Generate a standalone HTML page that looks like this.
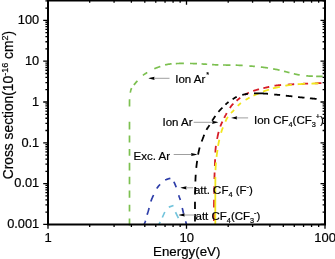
<!DOCTYPE html>
<html><head><meta charset="utf-8"><style>
html,body{margin:0;padding:0;background:#fff;}
body{width:335px;height:259px;overflow:hidden;position:relative;}
svg{position:absolute;left:0;top:0;will-change:transform;}
.t{font-family:"Liberation Sans",sans-serif;fill:#000;stroke:#000;stroke-width:0.2px;}
</style></head><body>
<svg width="335" height="259" viewBox="0 0 335 259">
<rect width="335" height="259" fill="#fff"/>
<path d="M129.50,225.50 L129.50,223.18 L129.50,220.34 L129.50,217.05 L129.50,213.37 L129.50,209.35 L129.50,205.05 L129.50,200.54 L129.50,195.88 L129.50,191.11 L129.50,186.31 L129.50,181.52 L129.50,176.82 L129.50,172.26 L129.50,167.89 L129.50,163.79 L129.50,160.00 L129.50,156.38 L129.50,152.74 L129.50,149.11 L129.50,145.50 L129.50,141.92 L129.50,138.40 L129.49,134.95 L129.49,131.59 L129.49,128.34 L129.49,125.21 L129.49,122.22 L129.49,119.39 L129.49,116.74 L129.50,114.28 L129.50,112.03 L129.50,110.00 L129.50,108.23 L129.50,106.72 L129.51,105.45 L129.51,104.38 L129.51,103.50 L129.51,102.78 L129.52,102.19 L129.52,101.72 L129.52,101.33 L129.53,101.01 L129.54,100.72 L129.54,100.45 L129.56,100.17 L129.57,99.85 L129.58,99.47 L129.60,99.00 L129.62,98.50 L129.64,98.05 L129.66,97.62 L129.68,97.22 L129.70,96.85 L129.72,96.51 L129.75,96.18 L129.78,95.87 L129.80,95.57 L129.84,95.28 L129.87,94.99 L129.91,94.70 L129.95,94.42 L130.00,94.12 L130.05,93.82 L130.10,93.50 L130.16,93.18 L130.21,92.85 L130.27,92.53 L130.33,92.21 L130.40,91.89 L130.46,91.58 L130.53,91.27 L130.61,90.96 L130.68,90.65 L130.77,90.35 L130.86,90.04 L130.95,89.75 L131.05,89.45 L131.16,89.17 L131.28,88.88 L131.40,88.60 L131.53,88.33 L131.67,88.06 L131.82,87.79 L131.98,87.54 L132.14,87.28 L132.31,87.03 L132.48,86.79 L132.66,86.54 L132.85,86.30 L133.03,86.06 L133.22,85.82 L133.42,85.58 L133.61,85.34 L133.81,85.09 L134.00,84.85 L134.20,84.60 L134.40,84.35 L134.59,84.11 L134.79,83.86 L134.99,83.62 L135.20,83.38 L135.40,83.14 L135.61,82.90 L135.82,82.66 L136.03,82.42 L136.25,82.17 L136.48,81.92 L136.71,81.67 L136.95,81.41 L137.19,81.15 L137.44,80.88 L137.70,80.60 L137.97,80.31 L138.24,80.01 L138.53,79.70 L138.82,79.38 L139.12,79.06 L139.42,78.73 L139.73,78.40 L140.04,78.06 L140.36,77.73 L140.68,77.40 L141.00,77.08 L141.32,76.76 L141.64,76.45 L141.96,76.16 L142.28,75.87 L142.60,75.60 L142.91,75.34 L143.23,75.10 L143.54,74.86 L143.86,74.64 L144.17,74.42 L144.48,74.20 L144.80,74.00 L145.12,73.79 L145.44,73.59 L145.76,73.40 L146.09,73.20 L146.42,73.01 L146.76,72.81 L147.10,72.61 L147.45,72.41 L147.80,72.20 L148.16,71.99 L148.53,71.78 L148.90,71.56 L149.28,71.35 L149.66,71.13 L150.05,70.92 L150.44,70.70 L150.83,70.49 L151.23,70.28 L151.62,70.07 L152.02,69.86 L152.42,69.66 L152.82,69.46 L153.21,69.27 L153.61,69.08 L154.00,68.90 L154.39,68.72 L154.79,68.55 L155.18,68.39 L155.58,68.22 L155.98,68.06 L156.38,67.91 L156.78,67.76 L157.18,67.61 L157.58,67.46 L157.98,67.32 L158.37,67.18 L158.76,67.04 L159.15,66.90 L159.54,66.77 L159.92,66.63 L160.30,66.50 L160.67,66.37 L161.04,66.24 L161.40,66.11 L161.76,65.99 L162.12,65.86 L162.47,65.74 L162.82,65.62 L163.17,65.51 L163.52,65.39 L163.87,65.28 L164.22,65.18 L164.57,65.07 L164.92,64.97 L165.28,64.88 L165.64,64.79 L166.00,64.70 L166.37,64.62 L166.74,64.54 L167.11,64.47 L167.48,64.40 L167.85,64.33 L168.23,64.27 L168.60,64.21 L168.98,64.16 L169.36,64.10 L169.74,64.05 L170.11,64.01 L170.49,63.96 L170.87,63.92 L171.25,63.88 L171.62,63.84 L172.00,63.80 L172.37,63.76 L172.74,63.73 L173.11,63.70 L173.48,63.68 L173.84,63.66 L174.21,63.63 L174.57,63.62 L174.94,63.60 L175.31,63.59 L175.68,63.57 L176.05,63.56 L176.43,63.55 L176.81,63.54 L177.20,63.52 L177.60,63.51 L178.00,63.50 L178.40,63.49 L178.81,63.48 L179.21,63.46 L179.61,63.45 L180.01,63.44 L180.42,63.43 L180.83,63.43 L181.25,63.42 L181.68,63.41 L182.11,63.41 L182.56,63.40 L183.02,63.40 L183.49,63.40 L183.97,63.40 L184.48,63.40 L185.00,63.40 L185.54,63.40 L186.11,63.41 L186.70,63.41 L187.30,63.42 L187.92,63.43 L188.55,63.44 L189.19,63.45 L189.84,63.46 L190.50,63.48 L191.15,63.49 L191.81,63.51 L192.46,63.52 L193.11,63.54 L193.75,63.56 L194.38,63.58 L195.00,63.60 L195.60,63.62 L196.20,63.65 L196.79,63.67 L197.38,63.70 L197.96,63.73 L198.53,63.76 L199.11,63.79 L199.69,63.82 L200.27,63.85 L200.85,63.88 L201.44,63.92 L202.03,63.95 L202.63,63.99 L203.24,64.03 L203.87,64.06 L204.50,64.10 L205.15,64.14 L205.80,64.18 L206.46,64.23 L207.13,64.27 L207.81,64.32 L208.49,64.37 L209.18,64.42 L209.88,64.47 L210.57,64.51 L211.27,64.56 L211.98,64.61 L212.68,64.65 L213.39,64.69 L214.09,64.73 L214.80,64.77 L215.50,64.80 L216.20,64.83 L216.91,64.85 L217.62,64.87 L218.33,64.89 L219.04,64.91 L219.75,64.93 L220.47,64.94 L221.19,64.95 L221.91,64.96 L222.63,64.98 L223.35,64.99 L224.08,65.00 L224.81,65.01 L225.54,65.02 L226.27,65.04 L227.00,65.05 L227.73,65.06 L228.47,65.08 L229.20,65.09 L229.94,65.10 L230.68,65.11 L231.42,65.12 L232.16,65.12 L232.91,65.13 L233.65,65.15 L234.40,65.16 L235.16,65.17 L235.92,65.19 L236.68,65.21 L237.45,65.24 L238.22,65.27 L239.00,65.30 L239.79,65.34 L240.58,65.38 L241.39,65.42 L242.20,65.47 L243.02,65.52 L243.85,65.58 L244.67,65.63 L245.50,65.69 L246.33,65.75 L247.15,65.81 L247.98,65.87 L248.80,65.94 L249.61,66.00 L250.42,66.07 L251.21,66.13 L252.00,66.20 L252.79,66.27 L253.58,66.34 L254.38,66.41 L255.19,66.48 L255.99,66.55 L256.79,66.63 L257.59,66.70 L258.38,66.78 L259.15,66.86 L259.91,66.94 L260.65,67.01 L261.38,67.09 L262.07,67.17 L262.75,67.25 L263.39,67.32 L264.00,67.40 L264.58,67.48 L265.12,67.55 L265.64,67.63 L266.12,67.70 L266.59,67.78 L267.04,67.86 L267.46,67.94 L267.88,68.01 L268.28,68.09 L268.67,68.16 L269.05,68.24 L269.44,68.31 L269.82,68.39 L270.21,68.46 L270.60,68.53 L271.00,68.60 L271.40,68.67 L271.79,68.73 L272.17,68.79 L272.55,68.85 L272.92,68.90 L273.28,68.96 L273.64,69.01 L274.00,69.07 L274.36,69.12 L274.72,69.18 L275.08,69.24 L275.45,69.31 L275.83,69.37 L276.21,69.44 L276.60,69.52 L277.00,69.60 L277.41,69.69 L277.83,69.78 L278.26,69.88 L278.70,69.98 L279.15,70.09 L279.60,70.20 L280.05,70.31 L280.50,70.42 L280.95,70.53 L281.40,70.65 L281.85,70.76 L282.30,70.87 L282.74,70.98 L283.17,71.09 L283.59,71.20 L284.00,71.30 L284.40,71.40 L284.79,71.50 L285.17,71.59 L285.55,71.68 L285.92,71.78 L286.28,71.87 L286.64,71.96 L287.00,72.05 L287.36,72.14 L287.72,72.23 L288.08,72.32 L288.45,72.42 L288.83,72.51 L289.21,72.60 L289.60,72.70 L290.00,72.80 L290.41,72.90 L290.83,73.01 L291.25,73.11 L291.68,73.23 L292.11,73.34 L292.55,73.45 L292.99,73.56 L293.44,73.67 L293.88,73.79 L294.33,73.90 L294.78,74.01 L295.23,74.11 L295.67,74.22 L296.12,74.31 L296.56,74.41 L297.00,74.50 L297.44,74.59 L297.88,74.67 L298.33,74.75 L298.77,74.83 L299.22,74.91 L299.67,74.98 L300.12,75.06 L300.56,75.12 L301.01,75.19 L301.45,75.26 L301.89,75.32 L302.32,75.38 L302.75,75.44 L303.17,75.50 L303.59,75.55 L304.00,75.60 L304.40,75.65 L304.78,75.69 L305.16,75.73 L305.52,75.77 L305.88,75.81 L306.24,75.84 L306.59,75.87 L306.94,75.90 L307.29,75.93 L307.65,75.95 L308.01,75.98 L308.38,76.00 L308.77,76.03 L309.16,76.05 L309.57,76.08 L310.00,76.10 L310.45,76.12 L310.91,76.15 L311.39,76.17 L311.88,76.19 L312.39,76.22 L312.90,76.24 L313.42,76.26 L313.94,76.28 L314.46,76.29 L314.99,76.31 L315.51,76.33 L316.02,76.34 L316.53,76.36 L317.03,76.37 L317.52,76.39 L318.00,76.40 L318.48,76.41 L318.97,76.42 L319.47,76.43 L319.98,76.44 L320.50,76.45 L321.01,76.46 L321.51,76.46 L322.00,76.47 L322.48,76.47 L322.93,76.48 L323.36,76.48 L323.77,76.49 L324.14,76.49 L324.47,76.49 L324.76,76.50 L325.00,76.50" fill="none" stroke="#7cc050" stroke-width="1.7" stroke-dasharray="0.00 0.00 6.90 7.00 6.90 6.90 7.20 6.30 7.60 6.30 7.60 7.00 6.90 6.30 7.00 6.20 7.70 15.10 7.40 6.66 4.73 3.91 5.30 7.85 5.18 8.00 6.42 4.99 6.64 4.20 8.10 6.10 7.00 4.61 5.59 4.92 6.31 4.60 7.50 5.20 7.00 6.63 5.62 6.02 7.23 5.10 6.65 4.56 5.63 4.51 5.97 6.65 6.61 3.30 6.50 390.42"/>
<path d="M144.10,224.60 L144.15,224.46 L144.21,224.30 L144.29,224.12 L144.36,223.91 L144.45,223.70 L144.54,223.46 L144.64,223.21 L144.74,222.94 L144.85,222.67 L144.96,222.38 L145.07,222.08 L145.18,221.78 L145.28,221.46 L145.39,221.15 L145.50,220.82 L145.60,220.50 L145.70,220.17 L145.80,219.82 L145.90,219.45 L146.01,219.07 L146.11,218.69 L146.22,218.29 L146.32,217.89 L146.43,217.48 L146.54,217.06 L146.65,216.64 L146.75,216.23 L146.86,215.81 L146.97,215.40 L147.08,214.99 L147.19,214.59 L147.30,214.20 L147.41,213.81 L147.52,213.43 L147.63,213.05 L147.75,212.67 L147.86,212.29 L147.97,211.92 L148.09,211.54 L148.20,211.16 L148.31,210.79 L148.43,210.41 L148.54,210.03 L148.65,209.65 L148.77,209.27 L148.88,208.88 L148.99,208.49 L149.10,208.10 L149.21,207.70 L149.31,207.31 L149.41,206.91 L149.51,206.51 L149.61,206.10 L149.70,205.70 L149.80,205.29 L149.89,204.88 L149.99,204.47 L150.09,204.06 L150.20,203.65 L150.31,203.24 L150.42,202.83 L150.54,202.42 L150.67,202.01 L150.80,201.60 L150.94,201.19 L151.09,200.78 L151.24,200.36 L151.40,199.95 L151.56,199.53 L151.72,199.11 L151.89,198.70 L152.06,198.28 L152.24,197.87 L152.41,197.45 L152.59,197.04 L152.77,196.62 L152.95,196.21 L153.14,195.81 L153.32,195.40 L153.50,195.00 L153.68,194.60 L153.86,194.19 L154.05,193.79 L154.23,193.38 L154.42,192.98 L154.61,192.58 L154.80,192.17 L154.99,191.78 L155.18,191.38 L155.38,190.99 L155.57,190.61 L155.77,190.23 L155.98,189.86 L156.18,189.50 L156.39,189.14 L156.60,188.80 L156.81,188.47 L157.03,188.14 L157.24,187.83 L157.46,187.52 L157.68,187.22 L157.90,186.93 L158.12,186.64 L158.35,186.36 L158.58,186.08 L158.81,185.81 L159.05,185.54 L159.29,185.27 L159.54,185.00 L159.79,184.74 L160.04,184.47 L160.30,184.20 L160.57,183.93 L160.83,183.66 L161.11,183.38 L161.39,183.11 L161.67,182.84 L161.96,182.56 L162.25,182.30 L162.54,182.03 L162.84,181.77 L163.14,181.52 L163.45,181.27 L163.75,181.04 L164.06,180.81 L164.37,180.60 L164.69,180.39 L165.00,180.20 L165.33,180.02 L165.67,179.85 L166.02,179.68 L166.39,179.53 L166.76,179.38 L167.14,179.24 L167.52,179.11 L167.89,178.99 L168.26,178.87 L168.62,178.77 L168.97,178.67 L169.30,178.58 L169.61,178.50 L169.90,178.42 L170.17,178.36 L170.40,178.30 L170.60,178.25 L170.78,178.20 L170.93,178.17 L171.06,178.13 L171.17,178.11 L171.27,178.09 L171.35,178.09 L171.43,178.09 L171.49,178.10 L171.55,178.12 L171.61,178.15 L171.68,178.20 L171.74,178.25 L171.82,178.32 L171.90,178.40 L172.00,178.50 L172.11,178.61 L172.21,178.73 L172.32,178.86 L172.42,179.01 L172.53,179.17 L172.63,179.34 L172.74,179.52 L172.85,179.71 L172.96,179.91 L173.07,180.12 L173.19,180.34 L173.30,180.57 L173.42,180.82 L173.54,181.07 L173.67,181.33 L173.80,181.60 L173.93,181.88 L174.07,182.17 L174.21,182.48 L174.36,182.80 L174.51,183.12 L174.66,183.46 L174.81,183.81 L174.96,184.16 L175.12,184.53 L175.27,184.90 L175.43,185.28 L175.59,185.67 L175.74,186.07 L175.90,186.47 L176.05,186.88 L176.20,187.30 L176.35,187.73 L176.50,188.18 L176.66,188.65 L176.81,189.14 L176.97,189.63 L177.12,190.14 L177.28,190.65 L177.43,191.16 L177.58,191.68 L177.74,192.19 L177.89,192.69 L178.04,193.18 L178.18,193.66 L178.32,194.13 L178.46,194.58 L178.60,195.00 L178.73,195.40 L178.86,195.78 L178.99,196.14 L179.11,196.49 L179.24,196.82 L179.36,197.14 L179.48,197.46 L179.59,197.78 L179.71,198.09 L179.82,198.40 L179.94,198.72 L180.05,199.05 L180.16,199.39 L180.28,199.74 L180.39,200.11 L180.50,200.50 L180.61,200.91 L180.72,201.33 L180.83,201.77 L180.94,202.22 L181.05,202.69 L181.16,203.15 L181.27,203.63 L181.38,204.11 L181.48,204.59 L181.59,205.06 L181.69,205.54 L181.79,206.01 L181.90,206.47 L182.00,206.93 L182.10,207.37 L182.20,207.80 L182.30,208.22 L182.39,208.62 L182.49,209.02 L182.58,209.41 L182.67,209.79 L182.76,210.17 L182.85,210.55 L182.94,210.92 L183.03,211.29 L183.12,211.66 L183.21,212.04 L183.30,212.42 L183.40,212.80 L183.49,213.19 L183.60,213.59 L183.70,214.00 L183.81,214.42 L183.93,214.86 L184.05,215.31 L184.17,215.77 L184.30,216.24 L184.43,216.72 L184.56,217.19 L184.69,217.66 L184.82,218.13 L184.94,218.59 L185.07,219.04 L185.19,219.47 L185.30,219.89 L185.41,220.28 L185.51,220.65 L185.60,221.00 L185.69,221.32 L185.77,221.64 L185.84,221.94 L185.92,222.22 L185.99,222.50 L186.05,222.76 L186.11,223.00 L186.17,223.24 L186.22,223.46 L186.27,223.66 L186.32,223.86 L186.36,224.03 L186.40,224.20 L186.44,224.35 L186.47,224.48 L186.50,224.60" fill="none" stroke="#2c3ca8" stroke-width="1.7" stroke-dasharray="0.00 0.00 4.08 6.32 6.85 6.91 6.94 7.21 5.36 6.70 5.50 5.58 6.01 8.35 5.06 8.17 5.97 7.69 3.49 156.18"/>
<path d="M158.80,224.60 L160.30,221.80 L162.30,217.50 L164.80,212.00 L167.60,207.60 L168.80,207.10 L173.50,205.50 L175.50,212.20 L178.40,218.20 L181.10,224.60" fill="none" stroke="#72c4dc" stroke-width="1.65" stroke-dasharray="0.00 0.00 3.00 4.92 6.04 6.52 4.96 6.99 6.66 96.04"/>
<path d="M214.00,224.40 L214.00,223.71 L214.00,222.87 L214.00,221.90 L213.99,220.81 L213.99,219.62 L213.99,218.35 L213.98,217.02 L213.98,215.64 L213.98,214.23 L213.98,212.81 L213.98,211.39 L213.98,210.00 L213.98,208.64 L213.99,207.35 L213.99,206.13 L214.00,205.00 L214.01,203.94 L214.02,202.91 L214.04,201.90 L214.06,200.92 L214.07,199.95 L214.09,199.01 L214.12,198.08 L214.14,197.16 L214.16,196.26 L214.18,195.36 L214.20,194.47 L214.22,193.58 L214.25,192.69 L214.27,191.80 L214.28,190.90 L214.30,190.00 L214.31,189.10 L214.33,188.20 L214.34,187.31 L214.35,186.43 L214.36,185.55 L214.37,184.68 L214.38,183.81 L214.39,182.94 L214.40,182.07 L214.41,181.21 L214.42,180.34 L214.43,179.48 L214.45,178.61 L214.46,177.74 L214.48,176.87 L214.50,176.00 L214.52,175.12 L214.55,174.24 L214.58,173.35 L214.60,172.45 L214.63,171.56 L214.67,170.66 L214.70,169.77 L214.73,168.88 L214.77,167.99 L214.80,167.10 L214.83,166.23 L214.87,165.36 L214.90,164.50 L214.94,163.65 L214.97,162.82 L215.00,162.00 L215.03,161.19 L215.06,160.38 L215.09,159.57 L215.11,158.77 L215.14,157.97 L215.17,157.18 L215.19,156.40 L215.22,155.62 L215.25,154.87 L215.28,154.12 L215.31,153.39 L215.34,152.67 L215.38,151.97 L215.41,151.29 L215.46,150.64 L215.50,150.00 L215.55,149.39 L215.60,148.80 L215.65,148.23 L215.71,147.68 L215.77,147.15 L215.83,146.64 L215.89,146.14 L215.95,145.66 L216.01,145.18 L216.08,144.71 L216.15,144.25 L216.22,143.80 L216.29,143.35 L216.36,142.90 L216.43,142.45 L216.50,142.00 L216.57,141.55 L216.65,141.11 L216.72,140.68 L216.80,140.26 L216.88,139.84 L216.96,139.43 L217.04,139.03 L217.12,138.62 L217.20,138.23 L217.28,137.83 L217.37,137.44 L217.45,137.05 L217.54,136.67 L217.63,136.28 L217.71,135.89 L217.80,135.50 L217.89,135.11 L217.97,134.72 L218.06,134.34 L218.15,133.95 L218.24,133.57 L218.33,133.19 L218.42,132.81 L218.51,132.44 L218.60,132.06 L218.69,131.69 L218.79,131.32 L218.89,130.95 L218.98,130.59 L219.09,130.22 L219.19,129.86 L219.30,129.50 L219.41,129.14 L219.53,128.78 L219.64,128.42 L219.76,128.06 L219.88,127.71 L220.01,127.35 L220.14,127.00 L220.26,126.65 L220.39,126.30 L220.52,125.96 L220.65,125.62 L220.78,125.29 L220.91,124.96 L221.04,124.63 L221.17,124.31 L221.30,124.00 L221.43,123.69 L221.56,123.40 L221.69,123.10 L221.82,122.82 L221.95,122.54 L222.08,122.26 L222.21,121.99 L222.34,121.72 L222.48,121.45 L222.61,121.19 L222.74,120.92 L222.87,120.66 L223.00,120.40 L223.14,120.13 L223.27,119.87 L223.40,119.60 L223.53,119.33 L223.66,119.07 L223.79,118.80 L223.92,118.54 L224.04,118.28 L224.17,118.02 L224.30,117.76 L224.42,117.50 L224.55,117.24 L224.68,116.98 L224.81,116.72 L224.95,116.46 L225.08,116.20 L225.22,115.93 L225.36,115.67 L225.50,115.40 L225.64,115.13 L225.79,114.87 L225.93,114.60 L226.08,114.33 L226.22,114.07 L226.37,113.80 L226.52,113.53 L226.67,113.26 L226.82,112.99 L226.98,112.72 L227.14,112.44 L227.30,112.16 L227.47,111.88 L227.64,111.59 L227.82,111.30 L228.00,111.00 L228.19,110.69 L228.38,110.37 L228.59,110.05 L228.79,109.71 L229.01,109.37 L229.22,109.02 L229.44,108.67 L229.66,108.32 L229.88,107.98 L230.11,107.64 L230.33,107.30 L230.55,106.98 L230.77,106.66 L230.98,106.36 L231.19,106.07 L231.40,105.80 L231.60,105.55 L231.80,105.31 L231.99,105.08 L232.18,104.86 L232.36,104.66 L232.55,104.46 L232.73,104.27 L232.92,104.09 L233.10,103.91 L233.29,103.73 L233.48,103.55 L233.68,103.37 L233.87,103.18 L234.08,103.00 L234.28,102.80 L234.50,102.60 L234.72,102.39 L234.95,102.18 L235.18,101.97 L235.41,101.75 L235.65,101.54 L235.90,101.32 L236.14,101.10 L236.39,100.89 L236.64,100.67 L236.89,100.45 L237.14,100.24 L237.39,100.03 L237.64,99.82 L237.90,99.61 L238.15,99.40 L238.40,99.20 L238.65,99.00 L238.90,98.80 L239.15,98.61 L239.40,98.41 L239.66,98.22 L239.91,98.03 L240.16,97.84 L240.42,97.65 L240.67,97.46 L240.93,97.28 L241.19,97.09 L241.45,96.91 L241.71,96.73 L241.97,96.55 L242.24,96.38 L242.50,96.20 L242.77,96.03 L243.04,95.85 L243.31,95.68 L243.59,95.51 L243.86,95.33 L244.14,95.16 L244.42,95.00 L244.70,94.83 L244.98,94.67 L245.26,94.51 L245.54,94.35 L245.81,94.19 L246.09,94.04 L246.36,93.89 L246.63,93.74 L246.90,93.60 L247.16,93.46 L247.42,93.33 L247.67,93.20 L247.93,93.07 L248.17,92.94 L248.42,92.82 L248.67,92.70 L248.91,92.59 L249.16,92.47 L249.41,92.36 L249.66,92.25 L249.92,92.14 L250.18,92.03 L250.45,91.92 L250.72,91.81 L251.00,91.70 L251.29,91.59 L251.58,91.48 L251.88,91.38 L252.19,91.27 L252.50,91.17 L252.81,91.07 L253.13,90.97 L253.44,90.87 L253.76,90.77 L254.09,90.67 L254.41,90.58 L254.73,90.48 L255.05,90.38 L255.37,90.29 L255.69,90.19 L256.00,90.10 L256.31,90.01 L256.62,89.91 L256.93,89.82 L257.24,89.73 L257.55,89.64 L257.86,89.55 L258.17,89.46 L258.48,89.38 L258.79,89.29 L259.10,89.20 L259.42,89.12 L259.73,89.03 L260.04,88.95 L260.36,88.86 L260.68,88.78 L261.00,88.70 L261.32,88.62 L261.65,88.54 L261.97,88.46 L262.29,88.39 L262.62,88.31 L262.95,88.24 L263.28,88.17 L263.61,88.09 L263.94,88.02 L264.27,87.95 L264.60,87.88 L264.94,87.80 L265.28,87.73 L265.62,87.65 L265.96,87.58 L266.30,87.50 L266.65,87.42 L266.99,87.34 L267.34,87.26 L267.69,87.17 L268.05,87.09 L268.40,87.00 L268.76,86.92 L269.12,86.83 L269.48,86.75 L269.84,86.66 L270.20,86.58 L270.56,86.50 L270.92,86.42 L271.28,86.34 L271.64,86.27 L272.00,86.20 L272.36,86.13 L272.72,86.07 L273.08,86.00 L273.43,85.94 L273.79,85.88 L274.15,85.82 L274.51,85.76 L274.87,85.70 L275.23,85.64 L275.59,85.59 L275.95,85.54 L276.32,85.49 L276.69,85.44 L277.06,85.39 L277.43,85.34 L277.80,85.30 L278.18,85.26 L278.55,85.22 L278.93,85.18 L279.30,85.14 L279.68,85.11 L280.06,85.08 L280.44,85.05 L280.83,85.02 L281.21,84.99 L281.60,84.96 L281.99,84.94 L282.38,84.91 L282.78,84.88 L283.18,84.85 L283.59,84.83 L284.00,84.80 L284.42,84.77 L284.84,84.75 L285.26,84.72 L285.69,84.69 L286.13,84.67 L286.57,84.64 L287.01,84.62 L287.45,84.59 L287.89,84.57 L288.34,84.55 L288.79,84.52 L289.23,84.50 L289.68,84.47 L290.12,84.45 L290.56,84.42 L291.00,84.40 L291.44,84.37 L291.88,84.35 L292.31,84.32 L292.75,84.30 L293.19,84.27 L293.62,84.25 L294.06,84.22 L294.50,84.19 L294.94,84.17 L295.38,84.14 L295.81,84.12 L296.25,84.09 L296.69,84.07 L297.12,84.05 L297.56,84.02 L298.00,84.00 L298.44,83.98 L298.87,83.96 L299.30,83.94 L299.73,83.92 L300.15,83.90 L300.58,83.88 L301.01,83.86 L301.44,83.84 L301.87,83.83 L302.30,83.81 L302.74,83.79 L303.18,83.77 L303.63,83.75 L304.08,83.74 L304.54,83.72 L305.00,83.70 L305.47,83.68 L305.96,83.66 L306.45,83.64 L306.95,83.62 L307.46,83.60 L307.97,83.59 L308.48,83.57 L309.00,83.55 L309.52,83.53 L310.03,83.51 L310.54,83.49 L311.05,83.47 L311.55,83.45 L312.04,83.44 L312.53,83.42 L313.00,83.40 L313.47,83.38 L313.94,83.37 L314.40,83.35 L314.87,83.33 L315.33,83.31 L315.79,83.30 L316.24,83.28 L316.69,83.27 L317.13,83.25 L317.57,83.23 L317.99,83.22 L318.41,83.20 L318.83,83.19 L319.23,83.18 L319.62,83.16 L320.00,83.15 L320.38,83.14 L320.75,83.13 L321.13,83.11 L321.51,83.10 L321.88,83.09 L322.24,83.08 L322.60,83.07 L322.94,83.06 L323.27,83.05 L323.58,83.04 L323.87,83.03 L324.15,83.02 L324.40,83.02 L324.63,83.01 L324.83,83.01 L325.00,83.00" fill="none" stroke="#d61c26" stroke-width="1.8" stroke-dasharray="0.00 3.40 7.50 6.10 7.60 5.91 7.70 7.20 6.50 6.51 6.81 6.70 6.74 6.95 7.20 5.70 5.30 4.20 5.26 5.98 5.67 4.32 4.73 5.56 4.51 4.64 6.05 4.48 6.07 5.36 6.64 6.61 6.51 7.41 6.51 6.71 6.60 271.22"/>
<path d="M215.30,224.40 L215.30,223.35 L215.30,222.05 L215.30,220.54 L215.30,218.85 L215.30,217.00 L215.30,215.03 L215.29,212.96 L215.29,210.83 L215.29,208.66 L215.29,206.48 L215.29,204.33 L215.29,202.24 L215.29,200.23 L215.30,198.33 L215.30,196.58 L215.30,195.00 L215.30,193.55 L215.31,192.14 L215.31,190.79 L215.32,189.49 L215.32,188.23 L215.33,187.02 L215.33,185.85 L215.34,184.72 L215.34,183.64 L215.35,182.59 L215.36,181.58 L215.37,180.60 L215.37,179.66 L215.38,178.74 L215.39,177.86 L215.40,177.00 L215.41,176.19 L215.42,175.44 L215.43,174.74 L215.43,174.09 L215.44,173.49 L215.45,172.92 L215.46,172.39 L215.47,171.88 L215.48,171.38 L215.49,170.91 L215.50,170.44 L215.52,169.97 L215.54,169.50 L215.56,169.02 L215.58,168.52 L215.60,168.00 L215.63,167.47 L215.65,166.95 L215.68,166.44 L215.71,165.93 L215.74,165.43 L215.78,164.93 L215.81,164.43 L215.85,163.94 L215.89,163.45 L215.93,162.96 L215.97,162.47 L216.01,161.98 L216.06,161.49 L216.10,160.99 L216.15,160.50 L216.20,160.00 L216.25,159.50 L216.30,159.01 L216.36,158.51 L216.41,158.02 L216.47,157.53 L216.53,157.04 L216.59,156.55 L216.65,156.06 L216.71,155.57 L216.78,155.07 L216.84,154.57 L216.91,154.07 L216.98,153.56 L217.05,153.05 L217.13,152.53 L217.20,152.00 L217.28,151.46 L217.35,150.91 L217.43,150.35 L217.51,149.77 L217.60,149.19 L217.68,148.61 L217.77,148.02 L217.86,147.44 L217.95,146.85 L218.04,146.27 L218.13,145.70 L218.22,145.13 L218.31,144.58 L218.41,144.04 L218.50,143.51 L218.60,143.00 L218.70,142.51 L218.80,142.02 L218.90,141.55 L219.00,141.09 L219.11,140.64 L219.22,140.19 L219.32,139.76 L219.43,139.33 L219.54,138.90 L219.65,138.48 L219.76,138.06 L219.87,137.65 L219.98,137.23 L220.09,136.82 L220.19,136.41 L220.30,136.00 L220.41,135.59 L220.51,135.18 L220.61,134.78 L220.71,134.37 L220.81,133.97 L220.91,133.58 L221.01,133.18 L221.11,132.79 L221.21,132.41 L221.32,132.02 L221.42,131.64 L221.53,131.27 L221.64,130.90 L221.76,130.53 L221.88,130.16 L222.00,129.80 L222.13,129.44 L222.26,129.10 L222.39,128.75 L222.53,128.42 L222.67,128.08 L222.82,127.76 L222.96,127.43 L223.11,127.11 L223.26,126.78 L223.41,126.46 L223.56,126.14 L223.71,125.82 L223.86,125.49 L224.01,125.17 L224.16,124.84 L224.30,124.50 L224.44,124.16 L224.58,123.82 L224.72,123.47 L224.86,123.12 L225.00,122.76 L225.14,122.41 L225.27,122.05 L225.41,121.70 L225.55,121.35 L225.69,121.00 L225.84,120.65 L225.98,120.31 L226.13,119.97 L226.28,119.64 L226.44,119.32 L226.60,119.00 L226.76,118.69 L226.93,118.38 L227.10,118.07 L227.28,117.77 L227.46,117.47 L227.63,117.17 L227.82,116.88 L228.00,116.59 L228.19,116.31 L228.37,116.03 L228.56,115.76 L228.75,115.50 L228.94,115.24 L229.12,114.98 L229.31,114.74 L229.50,114.50 L229.69,114.27 L229.88,114.06 L230.06,113.85 L230.25,113.66 L230.44,113.48 L230.63,113.30 L230.83,113.12 L231.02,112.95 L231.21,112.78 L231.41,112.61 L231.60,112.44 L231.80,112.26 L232.00,112.08 L232.20,111.90 L232.40,111.70 L232.60,111.50 L232.80,111.29 L233.01,111.07 L233.22,110.85 L233.43,110.62 L233.64,110.39 L233.86,110.15 L234.07,109.91 L234.29,109.67 L234.50,109.44 L234.72,109.20 L234.93,108.96 L235.15,108.72 L235.36,108.49 L235.58,108.25 L235.79,108.02 L236.00,107.80 L236.21,107.58 L236.41,107.36 L236.61,107.14 L236.81,106.92 L237.01,106.71 L237.21,106.49 L237.40,106.28 L237.60,106.07 L237.80,105.86 L238.00,105.65 L238.21,105.44 L238.41,105.23 L238.63,105.02 L238.85,104.81 L239.07,104.61 L239.30,104.40 L239.54,104.19 L239.78,103.99 L240.03,103.78 L240.29,103.57 L240.55,103.36 L240.81,103.15 L241.08,102.95 L241.35,102.74 L241.62,102.54 L241.89,102.34 L242.16,102.14 L242.44,101.95 L242.71,101.75 L242.97,101.57 L243.24,101.38 L243.50,101.20 L243.76,101.02 L244.02,100.85 L244.28,100.68 L244.54,100.52 L244.80,100.36 L245.05,100.20 L245.31,100.04 L245.57,99.89 L245.83,99.74 L246.08,99.58 L246.34,99.44 L246.59,99.29 L246.85,99.14 L247.10,98.99 L247.35,98.85 L247.60,98.70 L247.85,98.55 L248.09,98.41 L248.34,98.27 L248.57,98.12 L248.81,97.98 L249.05,97.84 L249.29,97.71 L249.52,97.57 L249.76,97.43 L250.00,97.30 L250.24,97.16 L250.49,97.03 L250.73,96.90 L250.99,96.76 L251.24,96.63 L251.50,96.50 L251.77,96.37 L252.04,96.24 L252.31,96.11 L252.59,95.98 L252.88,95.85 L253.17,95.72 L253.45,95.59 L253.74,95.46 L254.03,95.34 L254.32,95.21 L254.61,95.09 L254.90,94.97 L255.18,94.85 L255.46,94.73 L255.73,94.61 L256.00,94.50 L256.26,94.39 L256.53,94.28 L256.79,94.17 L257.05,94.07 L257.30,93.97 L257.56,93.87 L257.81,93.77 L258.06,93.67 L258.31,93.57 L258.56,93.48 L258.80,93.38 L259.05,93.28 L259.29,93.19 L259.53,93.09 L259.76,93.00 L260.00,92.90 L260.23,92.80 L260.45,92.71 L260.66,92.62 L260.86,92.53 L261.06,92.43 L261.26,92.34 L261.46,92.25 L261.66,92.16 L261.86,92.07 L262.06,91.98 L262.28,91.89 L262.50,91.79 L262.73,91.70 L262.97,91.60 L263.23,91.50 L263.50,91.40 L263.79,91.29 L264.10,91.19 L264.43,91.07 L264.77,90.96 L265.12,90.84 L265.48,90.73 L265.85,90.61 L266.22,90.49 L266.59,90.37 L266.96,90.25 L267.32,90.14 L267.68,90.02 L268.03,89.91 L268.37,89.80 L268.69,89.70 L269.00,89.60 L269.29,89.51 L269.55,89.41 L269.80,89.33 L270.04,89.24 L270.26,89.16 L270.48,89.08 L270.70,89.00 L270.91,88.92 L271.13,88.85 L271.35,88.77 L271.59,88.70 L271.83,88.62 L272.09,88.54 L272.37,88.46 L272.67,88.38 L273.00,88.30 L273.35,88.21 L273.73,88.13 L274.14,88.04 L274.56,87.95 L274.99,87.86 L275.44,87.77 L275.90,87.68 L276.36,87.59 L276.83,87.50 L277.29,87.41 L277.76,87.33 L278.21,87.24 L278.66,87.15 L279.09,87.07 L279.50,86.98 L279.90,86.90 L280.28,86.82 L280.64,86.74 L280.99,86.66 L281.33,86.58 L281.66,86.50 L281.98,86.42 L282.30,86.35 L282.62,86.27 L282.94,86.19 L283.25,86.12 L283.57,86.05 L283.90,85.97 L284.23,85.90 L284.58,85.83 L284.93,85.77 L285.30,85.70 L285.68,85.63 L286.07,85.57 L286.47,85.51 L286.88,85.45 L287.29,85.38 L287.71,85.33 L288.13,85.27 L288.56,85.21 L288.98,85.15 L289.41,85.10 L289.83,85.05 L290.26,84.99 L290.68,84.94 L291.09,84.89 L291.50,84.85 L291.90,84.80 L292.29,84.76 L292.68,84.71 L293.06,84.67 L293.43,84.64 L293.81,84.60 L294.18,84.57 L294.54,84.53 L294.91,84.50 L295.28,84.47 L295.65,84.44 L296.03,84.41 L296.41,84.38 L296.80,84.35 L297.19,84.31 L297.59,84.28 L298.00,84.25 L298.42,84.22 L298.85,84.18 L299.29,84.15 L299.74,84.11 L300.20,84.08 L300.66,84.05 L301.12,84.01 L301.59,83.98 L302.05,83.95 L302.52,83.91 L302.98,83.88 L303.44,83.85 L303.89,83.82 L304.34,83.80 L304.77,83.77 L305.20,83.75 L305.62,83.73 L306.03,83.71 L306.43,83.69 L306.82,83.68 L307.21,83.66 L307.59,83.65 L307.98,83.64 L308.36,83.63 L308.74,83.62 L309.12,83.61 L309.50,83.60 L309.89,83.59 L310.28,83.58 L310.68,83.57 L311.09,83.56 L311.50,83.55 L311.92,83.54 L312.35,83.53 L312.79,83.52 L313.24,83.51 L313.68,83.50 L314.13,83.49 L314.59,83.48 L315.04,83.47 L315.50,83.46 L315.95,83.45 L316.41,83.44 L316.86,83.43 L317.30,83.42 L317.74,83.42 L318.17,83.41 L318.60,83.40 L319.03,83.39 L319.48,83.38 L319.93,83.38 L320.40,83.37 L320.87,83.36 L321.33,83.35 L321.79,83.35 L322.24,83.34 L322.68,83.33 L323.10,83.33 L323.50,83.32 L323.87,83.32 L324.21,83.31 L324.51,83.31 L324.78,83.30 L325.00,83.30" fill="none" stroke="#f2e61e" stroke-width="1.8" stroke-dasharray="0.00 0.00 47.40 6.90 7.60 5.58 7.03 4.23 6.16 7.27 5.72 6.19 5.40 5.00 4.38 5.45 4.24 5.63 4.61 4.38 5.71 4.68 6.25 4.11 7.14 5.53 6.66 5.82 7.52 6.30 7.10 266.41"/>
<path d="M195.00,224.40 L195.00,223.53 L195.00,222.45 L195.00,221.20 L194.99,219.80 L194.99,218.26 L194.99,216.62 L194.98,214.91 L194.98,213.14 L194.98,211.34 L194.98,209.53 L194.98,207.75 L194.98,206.01 L194.98,204.34 L194.99,202.77 L194.99,201.31 L195.00,200.00 L195.01,198.80 L195.02,197.64 L195.04,196.53 L195.05,195.47 L195.07,194.45 L195.09,193.47 L195.11,192.52 L195.12,191.60 L195.15,190.71 L195.17,189.85 L195.19,189.00 L195.21,188.18 L195.23,187.37 L195.26,186.57 L195.28,185.78 L195.30,185.00 L195.32,184.24 L195.34,183.51 L195.36,182.82 L195.38,182.15 L195.40,181.51 L195.42,180.88 L195.44,180.28 L195.46,179.69 L195.49,179.11 L195.51,178.53 L195.53,177.96 L195.56,177.38 L195.59,176.80 L195.63,176.22 L195.66,175.62 L195.70,175.00 L195.74,174.38 L195.78,173.77 L195.82,173.17 L195.86,172.57 L195.91,171.98 L195.95,171.38 L196.00,170.79 L196.05,170.19 L196.10,169.58 L196.16,168.97 L196.22,168.35 L196.29,167.71 L196.36,167.06 L196.43,166.39 L196.51,165.71 L196.60,165.00 L196.69,164.26 L196.80,163.48 L196.90,162.68 L197.02,161.84 L197.14,160.99 L197.26,160.12 L197.39,159.25 L197.52,158.38 L197.65,157.50 L197.79,156.64 L197.92,155.79 L198.06,154.97 L198.20,154.17 L198.33,153.41 L198.47,152.68 L198.60,152.00 L198.73,151.36 L198.87,150.75 L199.00,150.16 L199.14,149.60 L199.27,149.06 L199.41,148.55 L199.55,148.05 L199.69,147.56 L199.83,147.09 L199.97,146.63 L200.11,146.18 L200.25,145.74 L200.38,145.30 L200.52,144.87 L200.66,144.44 L200.80,144.00 L200.94,143.57 L201.07,143.16 L201.21,142.77 L201.34,142.38 L201.47,142.01 L201.60,141.65 L201.74,141.29 L201.87,140.94 L202.00,140.59 L202.14,140.24 L202.28,139.88 L202.41,139.52 L202.56,139.16 L202.70,138.78 L202.85,138.40 L203.00,138.00 L203.15,137.59 L203.31,137.16 L203.47,136.71 L203.64,136.26 L203.80,135.80 L203.97,135.34 L204.14,134.87 L204.31,134.41 L204.48,133.94 L204.65,133.49 L204.82,133.04 L205.00,132.60 L205.17,132.17 L205.35,131.76 L205.52,131.37 L205.70,131.00 L205.88,130.65 L206.05,130.32 L206.23,130.01 L206.40,129.72 L206.58,129.43 L206.76,129.16 L206.94,128.90 L207.12,128.64 L207.30,128.38 L207.48,128.13 L207.66,127.87 L207.85,127.62 L208.03,127.35 L208.22,127.08 L208.41,126.80 L208.60,126.50 L208.79,126.19 L208.99,125.88 L209.18,125.56 L209.38,125.24 L209.58,124.91 L209.78,124.58 L209.98,124.25 L210.18,123.92 L210.38,123.58 L210.59,123.25 L210.79,122.92 L210.99,122.59 L211.20,122.26 L211.40,121.94 L211.60,121.62 L211.80,121.30 L212.00,120.99 L212.20,120.68 L212.40,120.37 L212.60,120.06 L212.80,119.76 L213.00,119.46 L213.19,119.16 L213.39,118.86 L213.59,118.56 L213.79,118.26 L213.99,117.96 L214.19,117.67 L214.39,117.38 L214.60,117.08 L214.80,116.79 L215.00,116.50 L215.20,116.21 L215.41,115.92 L215.61,115.62 L215.82,115.33 L216.03,115.04 L216.23,114.75 L216.44,114.46 L216.65,114.17 L216.86,113.88 L217.07,113.60 L217.27,113.32 L217.48,113.05 L217.69,112.78 L217.89,112.51 L218.10,112.25 L218.30,112.00 L218.50,111.75 L218.70,111.51 L218.90,111.28 L219.10,111.05 L219.30,110.83 L219.49,110.61 L219.69,110.40 L219.89,110.19 L220.08,109.98 L220.28,109.77 L220.48,109.56 L220.68,109.35 L220.88,109.14 L221.09,108.93 L221.29,108.72 L221.50,108.50 L221.71,108.28 L221.92,108.06 L222.14,107.84 L222.35,107.61 L222.57,107.39 L222.79,107.17 L223.01,106.94 L223.23,106.72 L223.45,106.50 L223.67,106.28 L223.90,106.06 L224.12,105.84 L224.34,105.63 L224.56,105.41 L224.78,105.21 L225.00,105.00 L225.22,104.80 L225.43,104.60 L225.65,104.40 L225.86,104.21 L226.08,104.02 L226.29,103.83 L226.50,103.64 L226.72,103.45 L226.93,103.26 L227.15,103.08 L227.37,102.90 L227.59,102.72 L227.81,102.54 L228.04,102.36 L228.27,102.18 L228.50,102.00 L228.74,101.82 L228.97,101.65 L229.22,101.47 L229.46,101.30 L229.71,101.13 L229.95,100.96 L230.20,100.79 L230.46,100.62 L230.71,100.45 L230.96,100.28 L231.22,100.12 L231.47,99.95 L231.73,99.79 L231.99,99.63 L232.24,99.46 L232.50,99.30 L232.75,99.14 L233.01,98.97 L233.26,98.81 L233.51,98.64 L233.76,98.48 L234.01,98.32 L234.26,98.15 L234.52,97.99 L234.78,97.83 L235.04,97.68 L235.30,97.52 L235.57,97.37 L235.84,97.22 L236.12,97.08 L236.41,96.94 L236.70,96.80 L237.00,96.67 L237.31,96.54 L237.62,96.41 L237.93,96.29 L238.25,96.17 L238.58,96.05 L238.90,95.93 L239.24,95.82 L239.57,95.71 L239.91,95.60 L240.26,95.49 L240.60,95.39 L240.95,95.29 L241.30,95.19 L241.65,95.09 L242.00,95.00 L242.36,94.91 L242.72,94.82 L243.08,94.73 L243.45,94.64 L243.82,94.55 L244.20,94.47 L244.58,94.39 L244.96,94.31 L245.34,94.24 L245.72,94.17 L246.10,94.10 L246.48,94.03 L246.87,93.97 L247.25,93.91 L247.62,93.85 L248.00,93.80 L248.37,93.75 L248.74,93.71 L249.11,93.67 L249.48,93.63 L249.84,93.60 L250.21,93.57 L250.57,93.55 L250.94,93.53 L251.31,93.50 L251.68,93.49 L252.05,93.47 L252.43,93.45 L252.81,93.44 L253.20,93.43 L253.60,93.41 L254.00,93.40 L254.41,93.39 L254.83,93.38 L255.25,93.37 L255.68,93.36 L256.11,93.36 L256.55,93.35 L256.99,93.35 L257.44,93.35 L257.88,93.35 L258.33,93.35 L258.78,93.36 L259.23,93.36 L259.67,93.37 L260.12,93.38 L260.56,93.39 L261.00,93.40 L261.44,93.41 L261.88,93.43 L262.32,93.45 L262.77,93.46 L263.21,93.49 L263.66,93.51 L264.11,93.53 L264.55,93.56 L264.99,93.58 L265.43,93.61 L265.87,93.64 L266.31,93.67 L266.74,93.70 L267.16,93.73 L267.58,93.77 L268.00,93.80 L268.41,93.84 L268.82,93.87 L269.22,93.92 L269.62,93.96 L270.01,94.00 L270.40,94.05 L270.79,94.10 L271.17,94.14 L271.56,94.19 L271.94,94.24 L272.32,94.29 L272.70,94.33 L273.07,94.38 L273.45,94.42 L273.82,94.46 L274.20,94.50 L274.57,94.54 L274.94,94.57 L275.31,94.60 L275.67,94.63 L276.04,94.66 L276.40,94.69 L276.75,94.72 L277.11,94.75 L277.47,94.78 L277.83,94.81 L278.19,94.84 L278.55,94.87 L278.91,94.90 L279.27,94.93 L279.63,94.96 L280.00,95.00 L280.37,95.04 L280.74,95.08 L281.11,95.12 L281.48,95.16 L281.85,95.20 L282.22,95.25 L282.59,95.29 L282.96,95.34 L283.34,95.38 L283.71,95.43 L284.09,95.47 L284.47,95.52 L284.85,95.57 L285.23,95.61 L285.61,95.66 L286.00,95.70 L286.39,95.74 L286.79,95.79 L287.19,95.83 L287.59,95.88 L288.00,95.92 L288.41,95.96 L288.82,96.01 L289.23,96.05 L289.63,96.09 L290.04,96.14 L290.45,96.18 L290.85,96.23 L291.24,96.27 L291.64,96.31 L292.02,96.36 L292.40,96.40 L292.77,96.44 L293.13,96.49 L293.49,96.53 L293.84,96.58 L294.18,96.62 L294.52,96.67 L294.86,96.71 L295.19,96.76 L295.53,96.80 L295.87,96.84 L296.21,96.89 L296.56,96.93 L296.91,96.97 L297.26,97.02 L297.63,97.06 L298.00,97.10 L298.38,97.14 L298.78,97.18 L299.18,97.22 L299.59,97.26 L300.00,97.29 L300.42,97.33 L300.84,97.37 L301.26,97.41 L301.68,97.44 L302.10,97.48 L302.51,97.52 L302.92,97.55 L303.33,97.59 L303.73,97.63 L304.12,97.66 L304.50,97.70 L304.87,97.74 L305.23,97.78 L305.58,97.81 L305.92,97.85 L306.26,97.89 L306.59,97.92 L306.92,97.96 L307.24,98.00 L307.57,98.04 L307.90,98.08 L308.23,98.11 L308.57,98.15 L308.91,98.19 L309.27,98.23 L309.63,98.26 L310.00,98.30 L310.38,98.34 L310.76,98.37 L311.14,98.41 L311.53,98.45 L311.92,98.48 L312.32,98.52 L312.71,98.56 L313.12,98.59 L313.53,98.63 L313.94,98.67 L314.37,98.71 L314.80,98.74 L315.24,98.78 L315.68,98.82 L316.14,98.86 L316.60,98.90 L317.09,98.94 L317.62,98.99 L318.18,99.04 L318.77,99.08 L319.37,99.13 L319.99,99.19 L320.60,99.24 L321.21,99.29 L321.81,99.34 L322.39,99.38 L322.93,99.43 L323.45,99.47 L323.92,99.51 L324.34,99.55 L324.70,99.58 L325.00,99.60" fill="none" stroke="#000" stroke-width="1.8" stroke-dasharray="0.00 2.90 7.50 5.00 7.20 7.30 7.50 5.50 6.80 6.92 7.03 6.24 7.40 6.29 7.13 5.45 5.60 5.24 5.78 5.07 5.85 4.18 4.11 4.91 4.75 5.88 5.88 6.00 13.97 6.28 5.93 5.73 6.64 5.65 6.53 5.43 6.72 280.71"/>
<path d="M48.0,0.5 V224.4 H325.0 V0.5 Z" fill="none" stroke="#000" stroke-width="2"/>
<path d="M48.00,224.4 V228.70000000000002 M48.00,0.5 V4.8 M89.69,224.4 V227.0 M89.69,0.5 V2.8 M114.08,224.4 V227.0 M114.08,0.5 V2.8 M131.39,224.4 V227.0 M131.39,0.5 V2.8 M144.81,224.4 V227.0 M144.81,0.5 V2.8 M155.77,224.4 V227.0 M155.77,0.5 V2.8 M165.05,224.4 V227.0 M165.05,0.5 V2.8 M173.08,224.4 V227.0 M173.08,0.5 V2.8 M180.16,224.4 V227.0 M180.16,0.5 V2.8 M186.50,224.4 V228.70000000000002 M186.50,0.5 V4.8 M228.19,224.4 V227.0 M228.19,0.5 V2.8 M252.58,224.4 V227.0 M252.58,0.5 V2.8 M269.89,224.4 V227.0 M269.89,0.5 V2.8 M283.31,224.4 V227.0 M283.31,0.5 V2.8 M294.27,224.4 V227.0 M294.27,0.5 V2.8 M303.55,224.4 V227.0 M303.55,0.5 V2.8 M311.58,224.4 V227.0 M311.58,0.5 V2.8 M318.66,224.4 V227.0 M318.66,0.5 V2.8 M325.00,224.4 V228.70000000000002 M48.0,224.40 H43.2 M325.0,224.40 H320.5 M48.0,212.12 H45.4 M325.0,212.12 H322.6 M48.0,204.93 H45.4 M325.0,204.93 H322.6 M48.0,199.84 H45.4 M325.0,199.84 H322.6 M48.0,195.88 H45.4 M325.0,195.88 H322.6 M48.0,192.65 H45.4 M325.0,192.65 H322.6 M48.0,189.92 H45.4 M325.0,189.92 H322.6 M48.0,187.55 H45.4 M325.0,187.55 H322.6 M48.0,185.47 H45.4 M325.0,185.47 H322.6 M48.0,183.60 H43.2 M325.0,183.60 H320.5 M48.0,171.32 H45.4 M325.0,171.32 H322.6 M48.0,164.13 H45.4 M325.0,164.13 H322.6 M48.0,159.04 H45.4 M325.0,159.04 H322.6 M48.0,155.08 H45.4 M325.0,155.08 H322.6 M48.0,151.85 H45.4 M325.0,151.85 H322.6 M48.0,149.12 H45.4 M325.0,149.12 H322.6 M48.0,146.75 H45.4 M325.0,146.75 H322.6 M48.0,144.67 H45.4 M325.0,144.67 H322.6 M48.0,142.80 H43.2 M325.0,142.80 H320.5 M48.0,130.52 H45.4 M325.0,130.52 H322.6 M48.0,123.33 H45.4 M325.0,123.33 H322.6 M48.0,118.24 H45.4 M325.0,118.24 H322.6 M48.0,114.28 H45.4 M325.0,114.28 H322.6 M48.0,111.05 H45.4 M325.0,111.05 H322.6 M48.0,108.32 H45.4 M325.0,108.32 H322.6 M48.0,105.95 H45.4 M325.0,105.95 H322.6 M48.0,103.87 H45.4 M325.0,103.87 H322.6 M48.0,102.00 H43.2 M325.0,102.00 H320.5 M48.0,89.72 H45.4 M325.0,89.72 H322.6 M48.0,82.53 H45.4 M325.0,82.53 H322.6 M48.0,77.44 H45.4 M325.0,77.44 H322.6 M48.0,73.48 H45.4 M325.0,73.48 H322.6 M48.0,70.25 H45.4 M325.0,70.25 H322.6 M48.0,67.52 H45.4 M325.0,67.52 H322.6 M48.0,65.15 H45.4 M325.0,65.15 H322.6 M48.0,63.07 H45.4 M325.0,63.07 H322.6 M48.0,61.20 H43.2 M325.0,61.20 H320.5 M48.0,48.92 H45.4 M325.0,48.92 H322.6 M48.0,41.73 H45.4 M325.0,41.73 H322.6 M48.0,36.64 H45.4 M325.0,36.64 H322.6 M48.0,32.68 H45.4 M325.0,32.68 H322.6 M48.0,29.45 H45.4 M325.0,29.45 H322.6 M48.0,26.72 H45.4 M325.0,26.72 H322.6 M48.0,24.35 H45.4 M325.0,24.35 H322.6 M48.0,22.27 H45.4 M325.0,22.27 H322.6 M48.0,20.40 H43.2 M325.0,20.40 H320.5 M48.0,8.12 H45.4 M325.0,8.12 H322.6 M48.0,0.93 H45.4 M325.0,0.93 H322.6" fill="none" stroke="#000" stroke-width="1.3"/>
<line x1="169.5" y1="78.3" x2="153.6" y2="78.3" stroke="#9a9a9a" stroke-width="0.95"/><path d="M148.4,78.3 L149.9,77.85 L154.6,76.7 L154.0,78.3 L154.6,79.89999999999999 L149.9,78.75 Z" fill="#000"/>
<line x1="193.7" y1="122.3" x2="213.10000000000002" y2="122.3" stroke="#9a9a9a" stroke-width="0.95"/><path d="M218.3,122.3 L216.8,121.85 L212.10000000000002,120.7 L212.70000000000002,122.3 L212.10000000000002,123.89999999999999 L216.8,122.75 Z" fill="#000"/>
<line x1="248.1" y1="117.9" x2="236.2" y2="117.9" stroke="#9a9a9a" stroke-width="0.95"/><path d="M231.0,117.9 L232.5,117.45 L237.2,116.30000000000001 L236.6,117.9 L237.2,119.5 L232.5,118.35000000000001 Z" fill="#000"/>
<line x1="173.7" y1="154.5" x2="192.0" y2="154.5" stroke="#9a9a9a" stroke-width="0.95"/><path d="M197.2,154.5 L195.7,154.05 L191.0,152.9 L191.6,154.5 L191.0,156.1 L195.7,154.95 Z" fill="#000"/>
<line x1="193.0" y1="187.8" x2="185.6" y2="187.8" stroke="#9a9a9a" stroke-width="0.95"/><path d="M180.4,187.8 L181.9,187.35000000000002 L186.6,186.20000000000002 L186.0,187.8 L186.6,189.4 L181.9,188.25 Z" fill="#000"/>
<line x1="195.0" y1="215.0" x2="183.79999999999998" y2="215.0" stroke="#9a9a9a" stroke-width="0.95"/><path d="M178.6,215.0 L180.1,214.55 L184.79999999999998,213.4 L184.2,215.0 L184.79999999999998,216.6 L180.1,215.45 Z" fill="#000"/>
<text class="t" font-size="12.8" text-anchor="end" transform="translate(39.2,24.2) scale(1,1.0)">100</text>
<text class="t" font-size="12.8" text-anchor="end" transform="translate(39.2,65.0) scale(1,1.0)">10</text>
<text class="t" font-size="12.8" text-anchor="end" transform="translate(39.2,105.8) scale(1,1.0)">1</text>
<text class="t" font-size="12.8" text-anchor="end" transform="translate(39.2,146.6) scale(1,1.0)">0.1</text>
<text class="t" font-size="12.8" text-anchor="end" transform="translate(39.2,187.4) scale(1,1.0)">0.01</text>
<text class="t" font-size="12.8" text-anchor="end" transform="translate(39.2,228.2) scale(1,1.0)">0.001</text>
<text class="t" font-size="13" text-anchor="middle" transform="translate(48.0,241.8) scale(1,1.0)">1</text>
<text class="t" font-size="13" text-anchor="middle" transform="translate(186.8,241.8) scale(1,1.0)">10</text>
<text class="t" font-size="13" text-anchor="middle" transform="translate(325.2,241.8) scale(1,1.0)">100</text>
<text class="t" font-size="13.3" transform="translate(153.1,255.6) scale(1,1.0)">Energy(eV)</text>
<text class="t" font-size="13.8" text-anchor="middle" transform="translate(12.6,105.1) rotate(-90)">Cross section(10<tspan font-size="9" dy="-5">-16</tspan><tspan dy="5"> cm</tspan><tspan font-size="9" dy="-5">2</tspan><tspan dy="5">)</tspan></text>
<text class="t" font-size="11.5" transform="translate(175.2,82.5) scale(1,1.0)">Ion Ar<tspan font-size="7.3" dy="-5.3" dx="1.1">*</tspan></text>
<text class="t" font-size="11.5" transform="translate(162.5,126.2) scale(1,1.0)">Ion Ar</text>
<text class="t" font-size="11.5" transform="translate(254.0,123.5) scale(1,1.0)">Ion CF<tspan font-size="7.3" dy="3">4</tspan><tspan dy="-3">(CF</tspan><tspan font-size="7.3" dy="3">3</tspan><tspan font-size="7.3" dy="-8">+</tspan><tspan dy="5">)</tspan></text>
<text class="t" font-size="11.5" transform="translate(133.6,159.6) scale(1,1.0)">Exc. Ar</text>
<text class="t" font-size="11.5" transform="translate(193.9,193.7) scale(1,1.0)">att. CF<tspan font-size="7.3" dy="3">4</tspan><tspan dy="-3"> (F</tspan><tspan font-size="7.3" dy="-5">-</tspan><tspan dy="5">)</tspan></text>
<text class="t" font-size="11.5" transform="translate(195.5,219.9) scale(1,1.0)">att CF<tspan font-size="7.3" dy="3">4</tspan><tspan dy="-3">(CF</tspan><tspan font-size="7.3" dy="3">3</tspan><tspan font-size="7.3" dy="-8">-</tspan><tspan dy="5">)</tspan></text>
</svg>
</body></html>
